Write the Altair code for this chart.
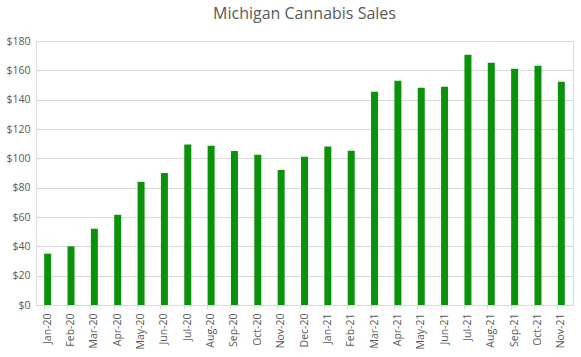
import altair as alt
import pandas as pd

months = ["Jan-20", "Feb-20", "Mar-20", "Apr-20", "May-20", "Jun-20", "Jul-20", "Aug-20",
          "Sep-20", "Oct-20", "Nov-20", "Dec-20", "Jan-21", "Feb-21", "Mar-21", "Apr-21",
          "May-21", "Jun-21", "Jul-21", "Aug-21", "Sep-21", "Oct-21", "Nov-21"]
sales = [35, 40, 52, 61.5, 84, 90, 109.5, 108.5, 105, 102.5, 92, 101, 108, 105.2,
         145.4, 152.9, 148.1, 148.8, 170.6, 165.2, 161, 163.2, 152.2]

df = pd.DataFrame({"Month": months, "Sales": sales})

FONT = "Open Sans"
GREY = "#595959"

chart = alt.Chart(df).mark_bar(color="#0a930a").encode(
    x=alt.X("Month:N", sort=months, title=None,
            scale=alt.Scale(paddingInner=0.7, paddingOuter=0.35),
            axis=alt.Axis(labelAngle=-90, labelFont=FONT, labelFontSize=10.5,
                          labelColor=GREY, domainColor="#d9d9d9", tickColor="#d9d9d9",
                          tickSize=4, bandPosition=0, labelPadding=4, grid=False)),
    y=alt.Y("Sales:Q", title=None,
            scale=alt.Scale(domain=[0, 180], nice=False),
            axis=alt.Axis(values=list(range(0, 181, 20)), format="$,.0f",
                          labelFont=FONT, labelFontSize=10.5, labelColor=GREY,
                          domain=False, ticks=False, gridColor="#d9d9d9",
                          labelPadding=6)),
).properties(
    width=537, height=264,
    title=alt.TitleParams("Michigan Cannabis Sales", font=FONT, fontSize=16,
                          fontWeight="normal", color=GREY, anchor="middle", offset=14),
    autosize=alt.AutoSizeParams(type="none"),
    padding={"left": 36, "top": 41, "right": 8, "bottom": 52},
).configure_view(stroke=None).configure(background="white")

chart.save("out.html", embed_options={"renderer": "svg", "actions": False})
